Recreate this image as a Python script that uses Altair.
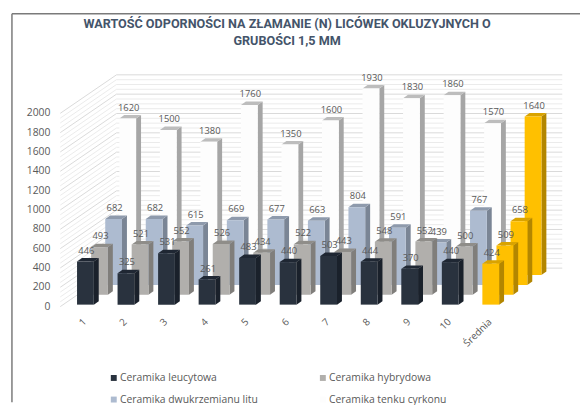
import altair as alt
import pandas as pd

categories = ["1", "2", "3", "4", "5", "6", "7", "8", "9", "10", "Średnia"]
series_names = ["Ceramika leucytowa", "Ceramika hybrydowa", "Ceramika dwukrzemianu litu", "Ceramika tenku cyrkonu"]
legend_order = ["Ceramika leucytowa", "Ceramika dwukrzemianu litu", "Ceramika hybrydowa", "Ceramika tenku cyrkonu"]
leucytowa = [446, 325, 531, 261, 483, 440, 503, 444, 370, 440, 424]
hybrydowa = [493, 521, 552, 526, 434, 522, 443, 548, 552, 500, 509]
dwukrzemian = [682, 682, 615, 669, 677, 663, 804, 591, 439, 767, 658]
cyrkon = [1620, 1500, 1380, 1760, 1350, 1600, 1930, 1830, 1860, 1570, 1640]
series_values = [leucytowa, hybrydowa, dwukrzemian, cyrkon]
title_lines = ["WARTOŚĆ ODPORNOŚCI NA ZŁAMANIE (N) LICÓWEK OKLUZYJNYCH O", "GRUBOŚCI 1,5 MM"]
y_ticks = list(range(0, 2001, 200))
grid_values = list(range(0, 2001, 50))

front = ["#29323e", "#b1afac", "#adbbd0", "#fdfdfd"]
side = ["#1a212b", "#807e7b", "#7a8595", "#a6a6a6"]
top = ["#1f2733", "#8f8d89", "#8e9aac", "#bdbdbd"]
gold = ("#ffc000", "#b38600", "#d9a300")

# oblique projection, in data units (1 category = 41.1 px, 1000 N = 98 px)
UX, UY = 41.1, 0.098
SHIFT = 2  # the page scrolls a little when the chart fills the window
W = 17 / UX
ROW_DX, ROW_DY = 14.3 / UX, 10 / UY
SIDE_DX, SIDE_DY = 5 / UX, 3.5 / UY
BASE = 2 / UY
WALL_X0, WALL_X1, WALL_X2 = (61 - 78) / UX + 1, (118 - 78) / UX + 1, (570 - 78) / UX + 1
WALL_DY = 39 / UY
XDOM = [(8 - 78) / UX + 1, (588 - 78) / UX + 1]
YDOM = [(306 - 405 + SHIFT) / UY, (306 - 8 + SHIFT) / UY]

FONT = "Open Sans"
TXT = "#595959"

xs = alt.Scale(domain=XDOM, nice=False, zero=False)
ys = alt.Scale(domain=YDOM, nice=False, zero=False)
X = lambda f, **k: alt.X(f, type="quantitative", scale=xs, axis=None, **k)
Y = lambda f, **k: alt.Y(f, type="quantitative", scale=ys, axis=None, **k)
X2 = lambda f: alt.X2(f)
Y2 = lambda f: alt.Y2(f)

layers = []

# grid on the walls
grid = pd.DataFrame({
    "v": grid_values,
    "x0": WALL_X0, "x1": WALL_X1, "x2": WALL_X2,
    "y_front": grid_values,
    "y_back": [v + WALL_DY for v in grid_values],
    "c": ["#d9d9d9" if v % 200 == 0 else "#ebebeb" for v in grid_values],
})
layers.append(alt.Chart(grid).mark_rule(strokeWidth=1).encode(
    x=X("x0"), x2=X2("x1"), y=Y("y_front"), y2=Y2("y_back"), color=alt.Color("c:N", scale=None)))
layers.append(alt.Chart(grid).mark_rule(strokeWidth=1).encode(
    x=X("x1"), x2=X2("x2"), y=Y("y_back"), color=alt.Color("c:N", scale=None)))

# y axis labels
y_df = pd.DataFrame({"v": y_ticks, "x": [(51 - 78) / UX + 1] * len(y_ticks), "t": [str(v) for v in y_ticks]})
layers.append(alt.Chart(y_df).mark_text(
    font=FONT, fontSize=10.5, color=TXT, align="right", baseline="middle").encode(
    x=X("x"), y=Y("v"), text="t:N"))

label_rows = []
for r in range(3, -1, -1):
    rect_rows, side_rows, top_rows = [], [], []
    for i, cat in enumerate(categories):
        val = series_values[r][i]
        x0 = i + 1 + r * ROW_DX
        base = BASE + r * ROW_DY
        tp = base + val
        avg = cat == "Średnia"
        f, s, t = gold if avg else (front[r], side[r], top[r])
        rect_rows.append({"x0": x0, "x1": x0 + W, "y0": base, "y1": tp, "series": series_names[r], "f": f, "avg": avg})
        side_rows += [
            {"id": i, "x": x0 + W, "y0": base, "y1": tp, "f": s},
            {"id": i, "x": x0 + W + SIDE_DX, "y0": base + SIDE_DY, "y1": tp + SIDE_DY, "f": s},
        ]
        top_rows += [
            {"id": i, "y": tp, "x0": x0, "x1": x0 + W, "f": t},
            {"id": i, "y": tp + SIDE_DY, "x0": x0 + SIDE_DX, "x1": x0 + W + SIDE_DX, "f": t},
        ]
        label_rows.append({"x": x0 + W / 2 + 1 / UX, "y": tp + 11 / UY, "t": str(val)})
    rect_df = pd.DataFrame(rect_rows)
    layers.append(alt.Chart(pd.DataFrame(side_rows)).mark_area(orient="vertical").encode(
        x=X("x"), y=Y("y0"), y2=Y2("y1"), detail="id:N", color=alt.Color("f:N", scale=None)))
    layers.append(alt.Chart(pd.DataFrame(top_rows)).mark_area(orient="horizontal").encode(
        y=Y("y"), x=X("x0"), x2=X2("x1"), detail="id:N", color=alt.Color("f:N", scale=None)))
    layers.append(alt.Chart(rect_df[~rect_df.avg]).mark_rect().encode(
        x=X("x0"), x2=X2("x1"), y=Y("y0"), y2=Y2("y1"),
        color=alt.Color("series:N", scale=alt.Scale(domain=series_names, range=front),
                        legend=alt.Legend(
                            orient="none", legendX=102, legendY=367, title=None, columns=2,
                            values=legend_order,
                            symbolType="square", symbolSize=36, labelFont=FONT, labelFontSize=10.5,
                            labelColor=TXT, columnPadding=60, rowPadding=11, gridAlign="each",
                            labelOffset=1, symbolStrokeWidth=0))))
    layers.append(alt.Chart(rect_df[rect_df.avg]).mark_rect(color=gold[0]).encode(
        x=X("x0"), x2=X2("x1"), y=Y("y0"), y2=Y2("y1")))

# data labels
layers.append(alt.Chart(pd.DataFrame(label_rows)).mark_text(
    font=FONT, fontSize=9.5, color=TXT, align="center", baseline="middle").encode(
    x=X("x"), y=Y("y"), text="t:N"))

# category labels
cat_df = pd.DataFrame({
    "x": [i + 1 + 8 / UX for i in range(len(categories))],
    "y": [-14 / UY] * len(categories),
    "t": categories,
})
layers.append(alt.Chart(cat_df).mark_text(
    font=FONT, fontSize=10, color=TXT, angle=315, align="right", baseline="middle").encode(
    x=X("x"), y=Y("y"), text="t:N"))

# title
title_df = pd.DataFrame({"t": title_lines, "px": [14, 31]})
layers.append(alt.Chart(title_df).mark_text(
    font="Roboto", fontSize=12.8, fontWeight="bold", color="#44546a", align="center", baseline="middle").encode(
    x=alt.value(283), y=alt.Y("px:Q", scale=None), text="t:N"))

# frame
layers.append(alt.Chart(pd.DataFrame({"a": [0]})).mark_rule(color="#7a7a7a", strokeWidth=1.5).encode(
    x=alt.value(4), x2=alt.value(580), y=alt.value(3)))
layers.append(alt.Chart(pd.DataFrame({"a": [0]})).mark_rule(color="#7a7a7a", strokeWidth=1.5).encode(
    x=alt.value(4), y=alt.value(3), y2=alt.value(397)))

chart = alt.layer(*layers).properties(
    width=580, height=397, padding=0, autosize=alt.AutoSizeParams(type="none"),
).configure_view(stroke=None)

chart.save("out.html", embed_options={"renderer": "svg", "actions": False})
